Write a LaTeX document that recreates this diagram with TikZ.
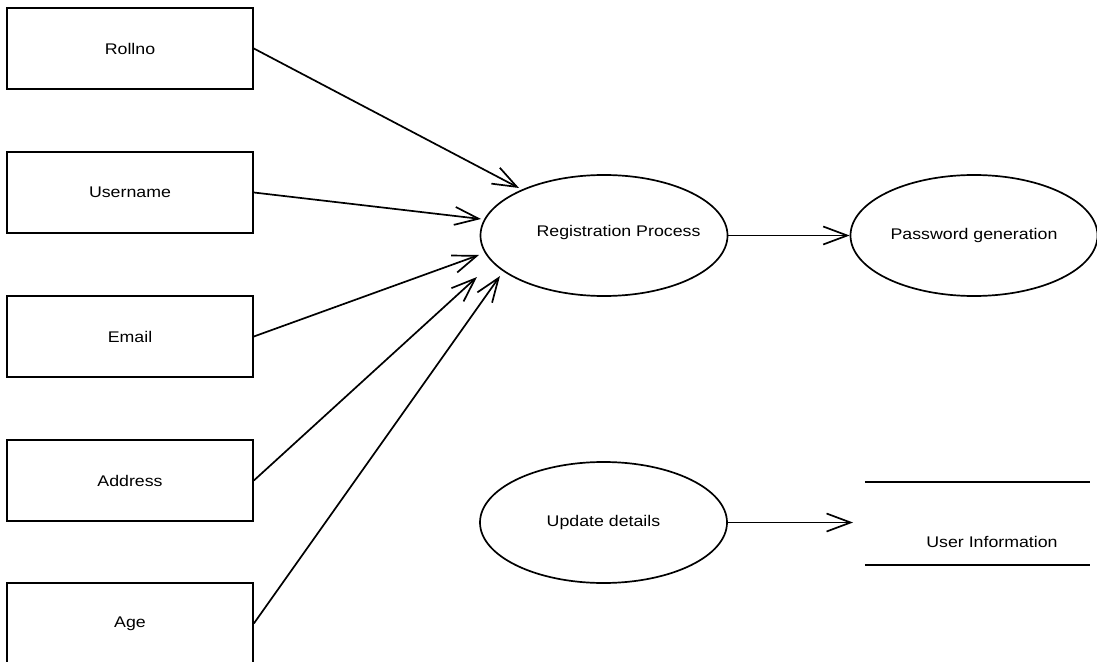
\documentclass[tikz,border=0pt]{standalone}
\usepackage{fontspec}
\setmainfont{Liberation Sans}
\usetikzlibrary{arrows.meta,shapes.geometric}

% widened label text
\newcommand{\wlabel}[1]{\scalebox{1.15}[1]{#1}}

\tikzset{
  every node/.style={font=\fontsize{15.5}{18}\selectfont, inner sep=0pt},
  entity/.style={draw, line width=1.7bp, minimum width=246bp, minimum height=81bp},
  process/.style={draw, ellipse, line width=1.7bp, minimum width=247bp, minimum height=121bp},
  flow/.style={line width=1.7bp, -{Straight Barb[length=24bp, width=18bp, line width=1.7bp]}},
  storeline/.style={line width=1.7bp}
}

\begin{document}
\begin{tikzpicture}[x=1bp, y=-1bp]
  \useasboundingbox (0,0) rectangle (1097,662);
  \clip (0,0) rectangle (1097,662);

  % input entities
  \node[entity] (roll)  at (130,48.5)  {\wlabel{Rollno}};
  \node[entity] (user)  at (130,192.5) {\wlabel{Username}};
  \node[entity] (email) at (130,336.5) {\wlabel{Email}};
  \node[entity] (addr)  at (130,480.5) {\wlabel{Address}};
  \node[entity] (age)   at (130,623.5) {\wlabel{Age}};

  % processes
  \node[process] (reg)  at (604,235.5) {};
  \node (regtext) at (618.5,233) {\wlabel{Registration Process}};
  \node[process] (pw)   at (974,235.5) {\wlabel{Password generation}};
  \node[process] (upd)  at (603.5,522.5) {\wlabel{Update details}};

  % data store
  \node[minimum width=225bp, minimum height=83bp] (store) at (977.5,523.5) {};
  \node (storetext) at (992,542) {\wlabel{User Information}};
  \draw[storeline] (store.north west) -- (store.north east);
  \draw[storeline] (store.south west) -- (store.south east);

  % arrow tips on the registration process
  \coordinate (tRoll)  at (519,188);
  \coordinate (tUser)  at (481,219);
  \coordinate (tEmail) at (479,255);
  \coordinate (tAddr)  at (477,277);
  \coordinate (tAge)   at (500,276);
  \coordinate (tStore) at (853,522.5);

  % flows
  \draw[flow] (roll.east)  -- (tRoll);
  \draw[flow] (user.east)  -- (tUser);
  \draw[flow] (email.east) -- (tEmail);
  \draw[flow] (addr.east)  -- (tAddr);
  \draw[flow] (age.east)   -- (tAge);
  \draw[flow] (reg.east)   -- (pw.west);
  \draw[flow] (upd.east)   -- (tStore);
\end{tikzpicture}
\end{document}
